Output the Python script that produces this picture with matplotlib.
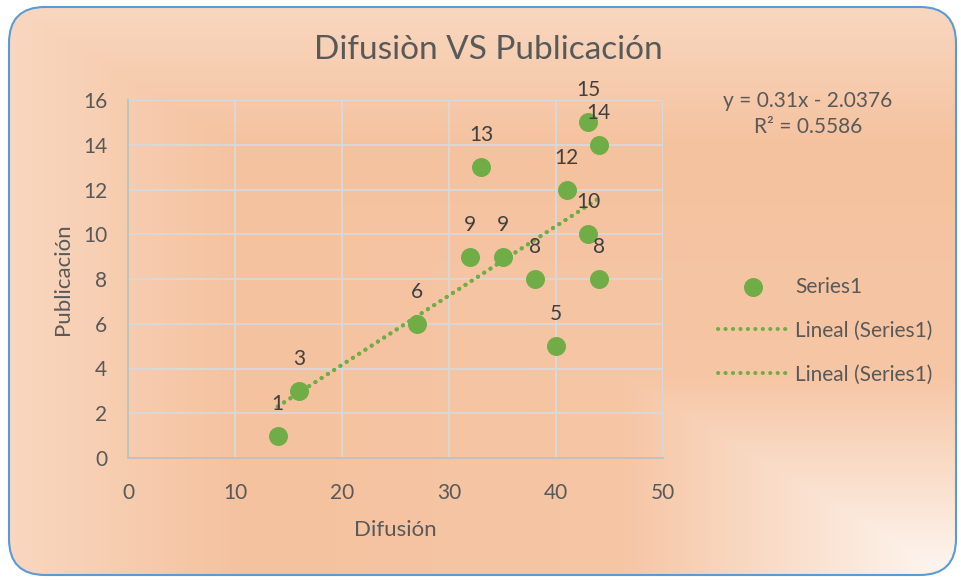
import numpy as np
import matplotlib
matplotlib.use("Agg")
import matplotlib.pyplot as plt
from matplotlib.patches import FancyBboxPatch

# datos
difusion = [14, 16, 27, 32, 33, 35, 38, 40, 41, 43, 43, 44, 44]
publicacion = [1, 3, 6, 9, 13, 9, 8, 5, 12, 15, 10, 14, 8]
pendiente = 0.31
intercepto = -2.0376
r2 = 0.5586
x_ticks = [0, 10, 20, 30, 40, 50]
y_ticks = [0, 2, 4, 6, 8, 10, 12, 14, 16]

plt.rcParams['font.family'] = ['Lato', 'DejaVu Sans']
texto = '#595959'
verde = '#70AD47'

W, H = 961, 581
fig = plt.figure(figsize=(W / 100, H / 100), dpi=100)
fig.patch.set_facecolor('white')

# fondo con degradado desde la esquina inferior derecha
bg = fig.add_axes([0, 0, 1, 1])
bg.set_xlim(0, W)
bg.set_ylim(H, 0)
bg.axis('off')
xx, yy = np.meshgrid(np.arange(W), np.arange(H))
t = np.maximum((W - xx) / W, (H - yy) / H)
stops = [0.0, 0.35, 0.75, 1.0]
cols = np.array([[254, 248, 244], [246, 198, 165], [245, 194, 159], [249, 216, 193]]) / 255
img = np.dstack([np.interp(t, stops, cols[:, k]) for k in range(3)])
im = bg.imshow(img, extent=(0, W, H, 0), interpolation='bilinear')
marco = FancyBboxPatch((9, 7), W - 14, H - 13, boxstyle='round,pad=0,rounding_size=36',
                       transform=bg.transData, facecolor='none', edgecolor='#5B9BD5', linewidth=1.5)
bg.add_patch(marco)
im.set_clip_path(marco)

# área del gráfico
ax = fig.add_axes([128 / W, (H - 458) / H, (663 - 128) / W, (458 - 100) / H])
ax.patch.set_alpha(0)
ax.set_xlim(0, 50)
ax.set_ylim(0, 16)
ax.set_xticks(x_ticks)
ax.set_yticks(y_ticks)
ax.grid(True, color='#D9D9D9', linewidth=1.3)
ax.set_axisbelow(True)
for lado in ['top', 'right']:
    ax.spines[lado].set_visible(False)
for lado in ['left', 'bottom']:
    ax.spines[lado].set_color('#BFBFBF')
    ax.spines[lado].set_linewidth(1.3)
ax.tick_params(length=0, labelsize=15, colors=texto)
ax.tick_params(axis='x', pad=18)
ax.tick_params(axis='y', pad=15)

ax.scatter(difusion, publicacion, s=160, color=verde, zorder=3, label='Series1')
xl = np.array([min(difusion), max(difusion)])
for _ in range(2):
    ax.plot(xl, pendiente * xl + intercepto, linestyle=(0, (0.05, 1.8)), color=verde,
            linewidth=2.9, dash_capstyle='round', zorder=2, label='Lineal (Series1)')

for xv, yv in zip(difusion, publicacion):
    ax.annotate(str(yv), (xv, yv), xytext=(0, 23), textcoords='offset points',
                ha='center', va='center', fontsize=15, color='#404040', zorder=4)

ax.set_xlabel('Difusión', fontsize=16, color=texto, labelpad=12)
ax.set_ylabel('Publicación', fontsize=16, color=texto, labelpad=7)

fig.text(488 / W, 1 - 50 / H, 'Difusiòn VS Publicación', ha='center', va='center',
         fontsize=24, color=texto)
fig.text(808 / W, 1 - 114 / H, 'y = 0.31x - 2.0376\nR² = 0.5586', ha='center', va='center',
         fontsize=15, color=texto, linespacing=1.4)

leg = ax.legend(loc='upper left', bbox_to_anchor=(699 / W, 1 - 258 / H),
                bbox_transform=fig.transFigure, frameon=False, fontsize=15,
                labelcolor=texto, handlelength=3.4, labelspacing=1.15, handletextpad=0.3)

fig.savefig('out.png', dpi=100)
